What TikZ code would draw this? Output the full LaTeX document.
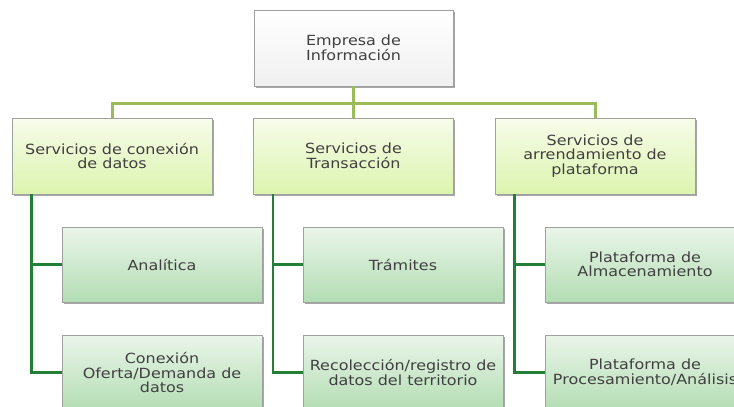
\documentclass[tikz,border=0pt]{standalone}
\usepackage{fontspec}
\setmainfont{DejaVu Sans}[FakeStretch=1.14]
\usetikzlibrary{shadows}
\definecolor{txt}{HTML}{404040}
\definecolor{boxline}{HTML}{A0A0A0}
\definecolor{olivel}{HTML}{9BBB59}
\definecolor{darkg}{HTML}{237E38}
\definecolor{ltop}{HTML}{F7FCEA}
\definecolor{lbot}{HTML}{DCF4AE}
\definecolor{ctop}{HTML}{EAF5EA}
\definecolor{cbot}{HTML}{B3DDB3}
\tikzset{
  box/.style={draw=boxline, line width=0.7pt, minimum width=200pt, minimum height=76pt,
    align=center, font=\fontsize{14}{14.5}\selectfont, text=txt, inner sep=2pt,
    drop shadow={shadow xshift=1.5pt, shadow yshift=-1.8pt, opacity=0.35, fill=black}},
  topbox/.style={box, top color=white, bottom color=black!6},
  lvlbox/.style={box, top color=ltop, bottom color=lbot},
  childbox/.style={box, top color=ctop, bottom color=cbot, minimum height=75pt},
  busline/.style={draw=olivel, line width=3pt},
  subline/.style={draw=darkg, line width=2.5pt}
}
\begin{document}
\begin{tikzpicture}[x=1pt,y=-1pt]
\useasboundingbox (0,0) rectangle (734,407);
\fill[white] (0,0) rectangle (734,407);
\clip (0,0) rectangle (734,407);
\node[topbox, minimum width=199pt] (top) at (353.5,48) {Empresa de\\Información};
\node[lvlbox] (A) at (112,156) {Servicios de conexión\\de datos};
\node[lvlbox] (B) at (353.5,156) {Servicios de\\Transacción};
\node[lvlbox] (C) at (595,156) {Servicios de\\arrendamiento de\\plataforma};
\node[childbox] (A1) at (162,264.5) {Analítica};
\node[childbox] (A2) at (162,372.5) {Conexión\\Oferta/Demanda de\\datos};
\node[childbox] (B1) at (403,264.5) {Trámites};
\node[childbox] (B2) at (403,372.5) {Recolección/registro de\\datos del territorio};
\node[childbox] (C1) at (645,264.5) {Plataforma de\\Almacenamiento};
\node[childbox] (C2) at (645,372.5) {Plataforma de\\Procesamiento/Análisis};
\coordinate (bus) at (353.5,103);
\draw[busline] (top.south) -- (bus);
\draw[busline] (bus) -| (A.north);
\draw[busline] (bus) -| (C.north);
\draw[busline] (bus) -- (B.north);
\coordinate (aA) at ([xshift=20pt]A.south west);
\coordinate (aB) at ([xshift=20pt]B.south west);
\coordinate (aC) at ([xshift=20pt]C.south west);
\draw[subline] (aA) |- (A1.west);
\draw[subline] (aA) |- (A2.west);
\draw[subline] (aB) |- (B1.west);
\draw[subline] (aB) |- (B2.west);
\draw[subline] (aC) |- (C1.west);
\draw[subline] (aC) |- (C2.west);
\end{tikzpicture}
\end{document}
